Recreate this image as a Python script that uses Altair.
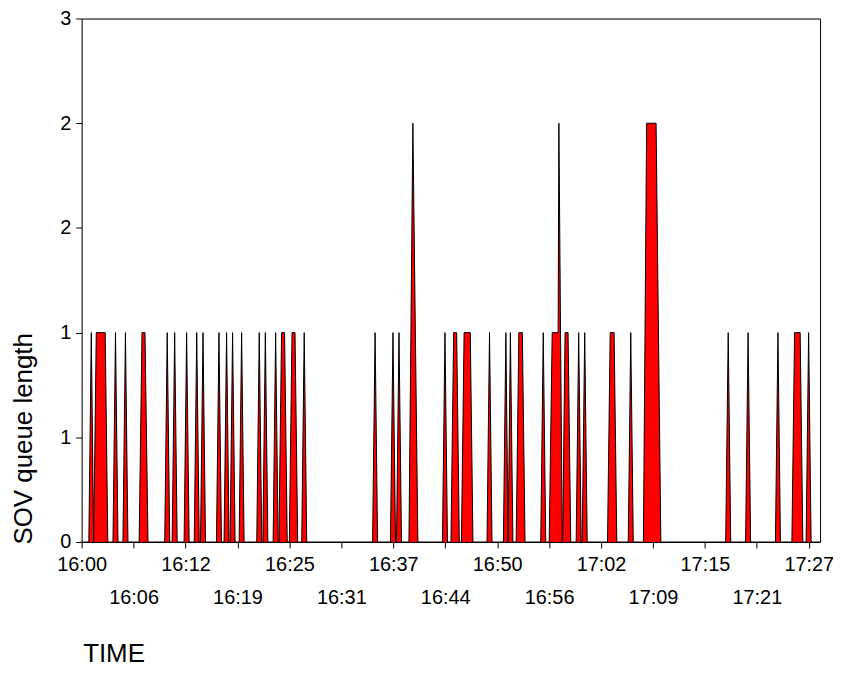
import altair as alt
import pandas as pd

# Minutes after 16:00 and SOV queue length
minutes = [
    0.0,
    0.86, 1.155, 1.44, 1.75, 2.82, 3.13,
    3.75, 4.05, 4.35,
    4.94, 5.24, 5.54,
    6.88, 7.22, 7.58, 7.94,
    9.94, 10.24, 10.54,
    10.83, 11.13, 11.43,
    12.26, 12.56, 12.86,
    13.47, 13.77, 14.07,
    14.22, 14.52, 14.82,
    16.13, 16.43, 16.73,
    17.04, 17.34, 17.64,
    17.76, 18.06, 18.36,
    18.84, 19.14, 19.44,
    20.95, 21.25, 21.55,
    21.68, 21.98, 22.28,
    22.91, 23.21, 23.51,
    23.60, 23.92, 24.28, 24.60,
    24.85, 25.17, 25.53, 25.85,
    26.33, 26.63, 26.93,
    34.81, 35.11, 35.41,
    36.95, 37.25, 37.55,
    37.67, 37.97, 38.27,
    39.16, 39.63, 40.23,
    43.17, 43.47, 43.77,
    44.19, 44.51, 44.87, 45.19,
    45.44, 45.76, 46.50, 46.82,
    48.50, 48.80, 49.10,
    50.46, 50.76, 51.03, 51.30, 51.60,
    51.99, 52.31, 52.73, 53.05,
    54.93, 55.23, 55.53,
    55.94, 56.30, 57.01, 57.10, 57.50,
    57.55, 57.84, 58.20, 58.52,
    59.17, 59.47, 59.77,
    59.89, 60.19, 60.49,
    62.92, 63.24, 63.71, 64.03,
    65.40, 65.70, 66.00,
    67.21, 67.60, 68.73, 69.30,
    77.06, 77.36, 77.66,
    79.44, 79.74, 80.04,
    83.01, 83.31, 83.61,
    84.98, 85.30, 85.97, 86.29,
    86.68, 86.98, 87.28,
    88.30,
]
queue = [
    0,
    0, 1, 0, 1, 1, 0,
    0, 1, 0,
    0, 1, 0,
    0, 1, 1, 0,
    0, 1, 0,
    0, 1, 0,
    0, 1, 0,
    0, 1, 0,
    0, 1, 0,
    0, 1, 0,
    0, 1, 0,
    0, 1, 0,
    0, 1, 0,
    0, 1, 0,
    0, 1, 0,
    0, 1, 0,
    0, 1, 1, 0,
    0, 1, 1, 0,
    0, 1, 0,
    0, 1, 0,
    0, 1, 0,
    0, 1, 0,
    0, 2, 0,
    0, 1, 0,
    0, 1, 1, 0,
    0, 1, 1, 0,
    0, 1, 0,
    0, 1, 0, 1, 0,
    0, 1, 1, 0,
    0, 1, 0,
    0, 1, 1, 2, 0,
    0, 1, 1, 0,
    0, 1, 0,
    0, 1, 0,
    0, 1, 1, 0,
    0, 1, 0,
    0, 2, 2, 0,
    0, 1, 0,
    0, 1, 0,
    0, 1, 0,
    0, 1, 1, 0,
    0, 1, 0,
    0,
]

tick_labels = ["16:00", "16:06", "16:12", "16:19", "16:25", "16:31", "16:37", "16:44",
               "16:50", "16:56", "17:02", "17:09", "17:15", "17:21", "17:27"]
span_minutes = 87.0
x_max = 88.35
y_ticks = [0, 0.5, 1, 1.5, 2, 2.5]

df = pd.DataFrame({"minutes": minutes, "queue": queue})

n_int = len(tick_labels) - 1
tick_vals = [i * span_minutes / n_int for i in range(len(tick_labels))]
lbl_arr = "[" + ",".join(f"'{l}'" for l in tick_labels) + "]"
idx = f"round(datum.value*{n_int}/{span_minutes})"
x_label_expr = f"{idx} % 2 == 0 ? {lbl_arr}[{idx}] : ['', {lbl_arr}[{idx}]]"

FONT = "Liberation Sans"
x_scale = alt.Scale(domain=[0, x_max], nice=False, zero=False)
y_scale = alt.Scale(domain=[0, 2.5], nice=False)

area = alt.Chart(df).mark_area(
    color="#ff0000",
    opacity=1,
    interpolate="linear",
    line={"color": "black", "strokeWidth": 1},
).encode(
    x=alt.X(
        "minutes:Q",
        scale=x_scale,
        axis=alt.Axis(
            values=tick_vals,
            labelExpr=x_label_expr,
            labelOverlap=False,
            labelFlush=False,
            labelFont=FONT,
            labelFontSize=20,
            labelColor="black",
            labelPadding=7,
            labelLineHeight=33,
            tickSize=6,
            tickColor="black",
            domainColor="black",
            grid=False,
            title="TIME",
            titleFont=FONT,
            titleFontSize=26,
            titleFontWeight="normal",
            titleColor="black",
            titleAlign="left",
            titleBaseline="alphabetic",
            titleX=1,
            titleY=120,
        ),
    ),
    y=alt.Y(
        "queue:Q",
        scale=y_scale,
        axis=alt.Axis(
            values=y_ticks,
            labelExpr="'' + round(datum.value)",
            labelFont=FONT,
            labelFontSize=20,
            labelColor="black",
            labelPadding=5,
            labelFlush=False,
            tickSize=6,
            tickColor="black",
            domainColor="black",
            grid=False,
            title="SOV queue length",
            titleFont=FONT,
            titleFontSize=26,
            titleFontWeight="normal",
            titleColor="black",
            titleAngle=270,
            titleAlign="left",
            titleBaseline="middle",
            titleX=-58,
            titleY=528,
        ),
    ),
)

# frame: top and right axis lines (domain only)
frame = alt.Chart(df).mark_point(opacity=0).encode(
    x=alt.X("minutes:Q", scale=x_scale,
            axis=alt.Axis(orient="top", labels=False, ticks=False, title=None,
                          grid=False, domainColor="black")),
    y=alt.Y("queue:Q", scale=y_scale,
            axis=alt.Axis(orient="right", labels=False, ticks=False, title=None,
                          grid=False, domainColor="black")),
)

chart = alt.layer(area, frame).resolve_axis(
    x="independent", y="independent"
).properties(
    width=742,
    height=526,
    autosize=alt.AutoSizeParams(type="none"),
    padding={"left": 74, "top": 9, "right": 13, "bottom": 125},
).configure_view(
    stroke=None,
).configure(background="white")

chart.save("out.html", embed_options={"renderer": "svg", "actions": False})
